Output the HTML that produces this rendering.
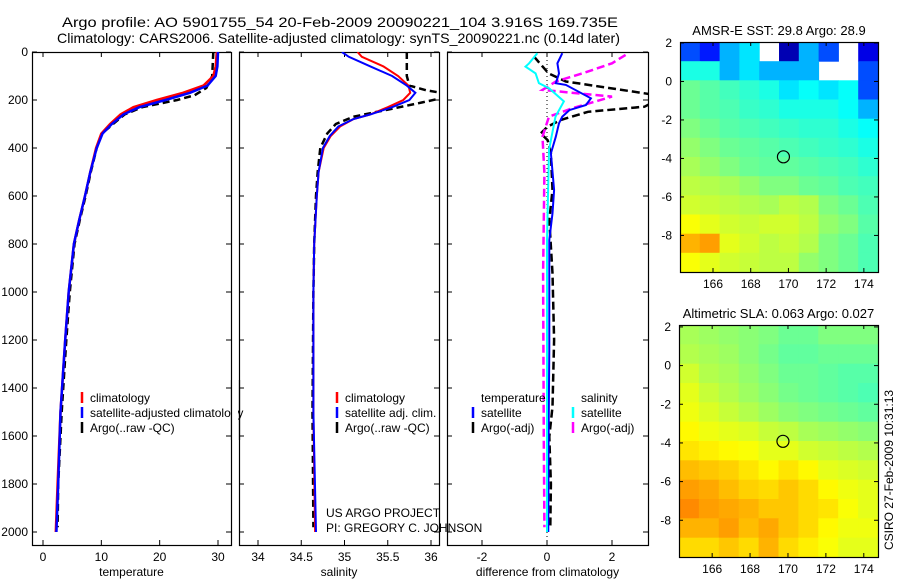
<!DOCTYPE html>
<html><head><meta charset="utf-8">
<style>
html,body{margin:0;padding:0;background:#fff;}
svg{display:block;font-family:"Liberation Sans",sans-serif;}
text{font-size:12px;fill:#000;}
</style></head>
<body>
<svg id="fig" width="900" height="580" viewBox="0 0 900 580" xmlns="http://www.w3.org/2000/svg">
<text x="62" y="27" textLength="556" lengthAdjust="spacingAndGlyphs" style="font-size:14px">Argo profile: AO 5901755_54 20-Feb-2009 20090221_104 3.916S 169.735E</text>
<text x="57" y="43" textLength="563" lengthAdjust="spacingAndGlyphs" style="font-size:14px">Climatology: CARS2006. Satellite-adjusted climatology: synTS_20090221.nc (0.14d later)</text>
<text transform="translate(893,470) rotate(-90)" text-anchor="middle">CSIRO 27-Feb-2009 10:31:13</text>
<g id="content"></g>
</svg>
<script>
// ---------- profile data ----------
const tDepth = [0,60,100,140,170,200,230,260,300,340,400,500,600,700,800,1000,1200,1500,1800,2000];
const tClim  = [29.8,29.6,29.2,27.5,24,19.5,15.5,13.3,11.5,10,9.1,8.1,7.2,6.2,5.3,4.4,3.8,3.0,2.5,2.2];
const tSat   = [30.0,29.9,29.6,28.2,25.2,21,16.5,13.8,11.8,10.2,9.2,8.1,7.2,6.2,5.3,4.4,3.8,3.0,2.6,2.3];
const aDepth = [0,100,150,180,200,230,260,300,340,400,500,600,700,800,1000,1200,1500,1800,1980];
const tArgo  = [29.2,29.0,28,26,23,17,14,12,10.1,9.2,8.2,7.3,6.3,5.4,4.6,4.0,3.2,2.6,2.5];
const sDepth = [0,20,60,100,140,170,200,230,260,280,310,350,400,500,600,800,1000,1500,2000];
const sClim  = [35.15,35.2,35.45,35.62,35.74,35.76,35.68,35.5,35.3,35.1,34.95,34.84,34.76,34.7,34.68,34.65,34.64,34.64,34.66];
const sSat   = [34.97,35.05,35.3,35.55,35.72,35.82,35.75,35.55,35.3,35.1,34.93,34.83,34.75,34.7,34.68,34.65,34.64,34.64,34.67];
const sArgoDepth = [0,100,140,160,175,190,210,240,270,300,340,400,500,600,800,1000,1500,1980];
const sArgo  = [35.72,35.72,35.75,35.95,36.2,36.15,35.9,35.5,35.1,34.9,34.8,34.72,34.69,34.67,34.65,34.64,34.63,34.64];
// differences
const dTSatDepth = [5,47,89,130,137,193,221,242,269,297,353,422,575,672,783,1240,1600,2000];
const dTSat      = [0.47,0.32,0.37,0.27,0.58,1.35,1.2,0.69,0.47,0.37,0.27,0.12,0.22,0.17,0.07,0.07,0.05,0.04];
const dSSatDepth = [5,47,61,89,130,151,206,269,339,408,783,1617,2000];
const dSSat      = [-0.3,-0.55,-0.66,-0.35,-0.25,0.06,0.52,0.26,0.16,0.06,0.0,0.0,0.0];
const dTArgoDepth = [19,89,123,172,185,228,249,283,311,339,367,422,575,700,922,1200,1478,1603,1800,1980];
const dTArgo      = [-0.4,0.05,0.58,3.0,3.6,3.0,1.26,0.43,0.02,-0.19,0.02,0.12,0.17,0.07,0.17,0.22,0.17,0.07,0.12,0.1];
const dSArgoDepth = [12,47,89,123,158,186,235,269,353,505,922,1617,1980];
const dSArgo      = [2.42,2.0,1.09,0.27,-0.14,2.0,0.77,0.06,-0.14,-0.08,-0.12,-0.1,-0.08];
const depthTicks = [0,200,400,600,800,1000,1200,1400,1600,1800,2000];
const tTicks = [0,10,20,30];
const sTicks = [34,34.5,35,35.5,36];
const sTickLabels = ["34","34.5","35","35.5","36"];
const dTicks = [-2,0,2];
// ---------- map data (jet index 0..1, -1 = missing) ----------
const lonTicks = [166,168,170,172,174];
const latTicks = [2,0,-2,-4,-6,-8];
const sstTitle = "AMSR-E SST: 29.8 Argo: 28.9";
const slaTitle = "Altimetric SLA: 0.063 Argo: 0.027";
const sstGrid = [
[0.2,0.15,0.3,0.35,-1,0.05,0.3,0.2,-1,0.1],
[0.4,0.4,0.3,0.35,0.3,0.3,0.3,-1,-1,0.2],
[0.48,0.46,0.44,0.42,0.4,0.35,0.38,0.35,0.38,0.2],
[0.48,0.46,0.45,0.43,0.42,0.4,0.4,0.4,0.38,0.3],
[0.5,0.48,0.46,0.45,0.44,0.43,0.42,0.42,0.4,0.38],
[0.52,0.5,0.48,0.47,0.46,0.45,0.44,0.43,0.42,0.4],
[0.54,0.52,0.5,0.48,0.47,0.47,0.46,0.45,0.44,0.42],
[0.56,0.55,0.54,0.52,0.5,0.5,0.48,0.47,0.45,0.44],
[0.58,0.57,0.56,0.55,0.54,0.56,0.55,0.5,0.48,0.45],
[0.62,0.6,0.58,0.57,0.58,0.58,0.56,0.52,0.5,0.46],
[0.7,0.72,0.6,0.58,0.56,0.57,0.55,0.5,0.48,0.45],
[0.62,0.6,0.58,0.57,0.56,0.56,0.52,0.5,0.48,0.45]];
const slaGrid = [
[0.54,0.53,0.52,0.51,0.5,0.48,0.48,0.5,0.5,0.5],
[0.55,0.54,0.53,0.51,0.49,0.47,0.47,0.48,0.48,0.48],
[0.58,0.55,0.54,0.52,0.5,0.48,0.48,0.47,0.46,0.46],
[0.6,0.57,0.55,0.53,0.51,0.49,0.48,0.47,0.46,0.45],
[0.61,0.59,0.57,0.55,0.53,0.51,0.5,0.49,0.48,0.47],
[0.63,0.61,0.6,0.59,0.57,0.56,0.54,0.53,0.52,0.51],
[0.65,0.64,0.63,0.62,0.6,0.6,0.58,0.57,0.56,0.55],
[0.69,0.68,0.67,0.65,0.63,0.65,0.63,0.6,0.59,0.58],
[0.72,0.71,0.69,0.67,0.66,0.68,0.66,0.63,0.61,0.6],
[0.74,0.72,0.71,0.7,0.68,0.68,0.66,0.65,0.62,0.6],
[0.7,0.7,0.72,0.69,0.71,0.68,0.66,0.63,0.61,0.61],
[0.66,0.66,0.68,0.66,0.7,0.66,0.64,0.62,0.6,0.6]];

const NS="http://www.w3.org/2000/svg";
const root=document.getElementById('content');
function mk(tag,attrs,parent){const e=document.createElementNS(NS,tag);for(const k in attrs)e.setAttribute(k,attrs[k]);(parent||root).appendChild(e);return e;}
function txt(s,x,y,anchor,parent){const t=mk('text',{x:x,y:y,'text-anchor':anchor||'start'},parent);t.textContent=s;return t;}

const Y0=52, Y1=532; // depth 0..2000
const yD=d=>Y0+(Y1-Y0)*d/2000;
const panels=[
 {name:'temperature',L:32,R:231,x:v=>43+(v-0)*(218-43)/30,ticks:tTicks,labels:tTicks.map(String),xl:'temperature'},
 {name:'salinity',L:239,R:439,x:v=>258+(v-34)*(431-258)/2,ticks:sTicks,labels:sTickLabels,xl:'salinity'},
 {name:'difference',L:447,R:648,x:v=>547+v*32.5,ticks:dTicks,labels:dTicks.map(String),xl:'difference from climatology'}
];
const TOP=52,BOT=545;
function line(p,depths,vals,color,w,dash,name){
  const g=mk('g',{'clip-path':'url(#clip-'+p.name+')'});
  const pts=depths.map((d,i)=>p.x(vals[i]).toFixed(1)+','+yD(d).toFixed(1)).join(' ');
  const pl=mk('polyline',{points:pts,fill:'none',stroke:color,'stroke-width':w},g);
  if(dash)pl.setAttribute('stroke-dasharray',dash);
  
  
}
const defs=mk('defs',{});
panels.forEach((p,pi)=>{
  const cp=mk('clipPath',{id:'clip-'+p.name},defs);
  mk('rect',{x:p.L,y:TOP,width:p.R-p.L,height:BOT-TOP},cp);
  const fr=mk('rect',{x:p.L+0.5,y:TOP+0.5,width:p.R-p.L,height:BOT-TOP,fill:'none',stroke:'#000','stroke-width':1.2});
  
  
  p.ticks.forEach((t,i)=>{
    const x=p.x(t);
    mk('line',{x1:x,x2:x,y1:BOT,y2:BOT-5,stroke:'#000'});
    mk('line',{x1:x,x2:x,y1:TOP,y2:TOP+5,stroke:'#000'});
    const lb=txt(p.labels[i],x,BOT+16,'middle');
    
    
  });
  const xl=txt(p.xl,(p.L+p.R)/2,BOT+31,'middle');
  
  
  depthTicks.forEach(d=>{
    const y=yD(d);
    mk('line',{x1:p.L,x2:p.L+5,y1:y,y2:y,stroke:'#000'});
    mk('line',{x1:p.R-5,x2:p.R,y1:y,y2:y,stroke:'#000'});
    if(pi===0){const l=txt(String(d),28,y+4,'end');
      
      }
  });
});
const [P1,P2,P3]=panels;
line(P1,aDepth,tArgo,'#000',2.5,'7,4','temperature-argo-line');
line(P1,tDepth,tClim,'#f00',2.5,null,'temperature-climatology-line');
line(P1,tDepth,tSat,'#00f',2.5,null,'temperature-satellite-line');
line(P2,sArgoDepth,sArgo,'#000',2.5,'7,4','salinity-argo-line');
line(P2,sDepth,sClim,'#f00',2,null,'salinity-climatology-line');
line(P2,sDepth,sSat,'#00f',2,null,'salinity-satellite-line');
const zl=mk('line',{x1:P3.x(0),x2:P3.x(0),y1:TOP,y2:BOT,stroke:'#000','stroke-dasharray':'1,3'});


line(P3,dTArgoDepth,dTArgo,'#000',2.5,'8,4','temperature-argo-difference-line');
line(P3,dSArgoDepth,dSArgo,'#f0f',2.5,'8,4','salinity-argo-difference-line');
line(P3,dTSatDepth,dTSat,'#00f',2,null,'temperature-satellite-difference-line');
line(P3,dSSatDepth,dSSat,'#0ff',2,null,'salinity-satellite-difference-line');

function legend(x,y,items,name){
  const g=mk('g',{});
  
  
  items.forEach((it,i)=>{
    const yy=y+i*15;
    if(it[1])mk('line',{x1:x,x2:x,y1:yy-10,y2:yy+1,stroke:it[1],'stroke-width':2.5},g);
    txt(it[0],x+8,yy,'start',g);
  });
}
legend(82,402,[['climatology','#f00'],['satellite-adjusted climatology','#00f'],['Argo(..raw -QC)','#000']],'temperature-legend');
legend(337,402,[['climatology','#f00'],['satellite adj. clim.','#00f'],['Argo(..raw -QC)','#000']],'salinity-legend');
legend(473,402,[['temperature',null],['satellite','#00f'],['Argo(-adj)','#000']],'difference-temperature-legend');
legend(573,402,[['salinity',null],['satellite','#0ff'],['Argo(-adj)','#f0f']],'difference-salinity-legend');
const cover=mk('rect',{x:232,y:380,width:6,height:60,fill:'#fff'});
mk('line',{x1:231.5,x2:231.5,y1:380,y2:440,stroke:'#000','stroke-width':1.2});
mk('line',{x1:239.5,x2:239.5,y1:380,y2:440,stroke:'#000','stroke-width':1.2});
const pr1=txt('US ARGO PROJECT',326,517);
const pr2=txt('PI: GREGORY C. JOHNSON',326,532);

// ---------- maps ----------
function jet(v){
  const r=Math.min(1,Math.max(0,Math.min(4*v-1.5,-4*v+4.5)));
  const g=Math.min(1,Math.max(0,Math.min(4*v-0.5,-4*v+3.5)));
  const b=Math.min(1,Math.max(0,Math.min(4*v+0.5,-4*v+2.5)));
  return 'rgb('+Math.round(r*255)+','+Math.round(g*255)+','+Math.round(b*255)+')';
}
function map(M){
  const lonL=164.25,lonR=174.75,latT=M.latT,latB=-9.9;
  const X=lon=>M.L+(lon-lonL)*(M.R-M.L)/(lonR-lonL);
  const Y=lat=>M.T+(latT-lat)*(M.B-M.T)/(latT-latB);
  const g=mk('g',{});
  
  
  const rows=M.grid.length, cols=M.grid[0].length;
  const cw=(lonR-lonL)/cols, ch=(latT-latB)/rows;
  M.grid.forEach((row,ri)=>row.forEach((v,ci)=>{
    if(v<0)return;
    const x0=X(lonL+ci*cw), x1=X(lonL+(ci+1)*cw), y0=Y(latT-ri*ch), y1=Y(latT-(ri+1)*ch);
    const c=mk('rect',{x:x0.toFixed(1),y:y0.toFixed(1),width:(x1-x0+0.5).toFixed(1),height:(y1-y0+0.5).toFixed(1),fill:jet(v)},g);
    
    
  }));
  mk('rect',{x:M.L+0.5,y:M.T+0.5,width:M.R-M.L,height:M.B-M.T,fill:'none',stroke:'#000','stroke-width':1.2},g);
  lonTicks.forEach(l=>{const x=X(l);
    mk('line',{x1:x,x2:x,y1:M.B,y2:M.B-4,stroke:'#000'},g);
    mk('line',{x1:x,x2:x,y1:M.T,y2:M.T+4,stroke:'#000'},g);
    const t=txt(String(l),x,M.B+16,'middle',g);
    
    });
  latTicks.forEach(l=>{const y=Y(l); if(y<M.T-1)return;
    mk('line',{x1:M.L,x2:M.L+4,y1:y,y2:y,stroke:'#000'},g);
    mk('line',{x1:M.R-4,x2:M.R,y1:y,y2:y,stroke:'#000'},g);
    const t=txt(String(l),M.L-8,y+4,'end',g);
    
    });
  const c=mk('circle',{cx:X(169.735),cy:Y(-3.916),r:6,fill:'none',stroke:'#000','stroke-width':1.2},g);
  
  
  const t=txt(M.title,(M.L+M.R)/2,M.T-7,'middle',g);
  t.setAttribute('style','font-size:13px');
  
  
}
map({name:'sst-map',L:680,R:878,T:42,B:272,latT:2.05,grid:sstGrid,title:sstTitle});
map({name:'sla-map',L:679,R:878,T:325,B:557,latT:2.1,grid:slaGrid,title:slaTitle});
</script>
</body></html>
